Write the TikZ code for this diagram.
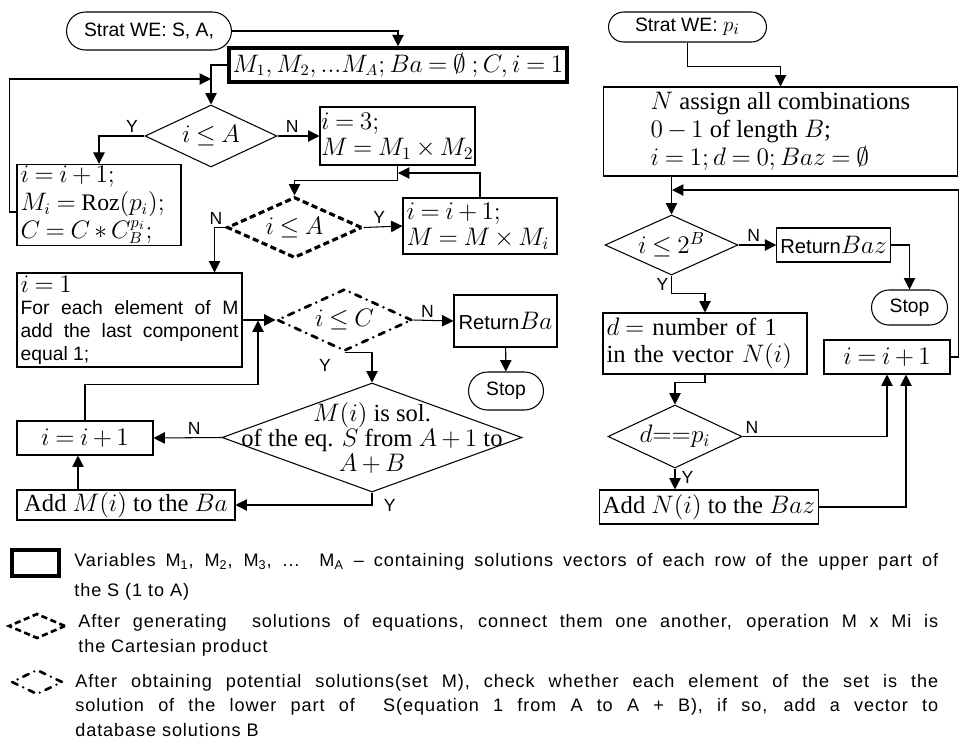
\documentclass[tikz,border=0pt]{standalone}
\usepackage{fontspec}
\setmainfont{Liberation Serif}
\setsansfont{Liberation Sans}
\newfontfamily\legfont[LetterSpace=5]{Liberation Sans}
\usetikzlibrary{arrows.meta,shapes.geometric,shapes.misc,calc}
\thickmuskip=4mu plus 2mu
\medmuskip=3mu plus 1mu

\begin{document}
\begin{tikzpicture}[x=0.02cm, y=-0.02cm,
    blk/.style={draw, line width=0.6pt, inner xsep=2pt, inner ysep=1pt, font=\fontsize{14}{15}\selectfont},
    term/.style={draw, rounded rectangle, line width=0.6pt, inner sep=2pt, font=\sffamily\fontsize{11}{12}\selectfont},
    cond/.style={draw, diamond, aspect=2.2, line width=0.6pt, inner sep=0pt, font=\fontsize{14}{14}\selectfont},
    arr/.style={-{Triangle[length=6.5pt,width=6.5pt]}, line width=0.6pt},
    lbl/.style={font=\sffamily\fontsize{10}{10}\selectfont, inner sep=1.5pt},
    dashbox/.style={line width=1.8pt, dash pattern=on 3.5pt off 2pt},
    dotbox/.style={line width=1.6pt, line cap=round, dash pattern=on 3.5pt off 3.5pt on 0pt off 3.5pt},
    legtxt/.style={anchor=north west, inner sep=0pt, align=justify}]

    % keep the frame of the original picture
    \useasboundingbox (0,0) rectangle (961,748);

    % Left chart: start, initialisation and first loop
    \node[term, minimum width=3.44cm, minimum height=0.76cm] (startA) at (149,31) {Strat WE: S, A,};
    \node[blk, line width=2pt, minimum width=6.4cm, minimum height=0.68cm, font=\fontsize{13.5}{14}\selectfont] (init) at (398,65) {$M_1, M_2, ...M_A; Ba = \emptyset\ ;C, i = 1$};
    \node[cond, minimum width=2.64cm, minimum height=1.24cm] (decA) at (211,136) {$i \le A$};
    \node[blk, minimum width=3.28cm, text width=3.14cm, minimum height=1.6cm, align=left, font=\fontsize{13.5}{16}\selectfont] (updA) at (99,205) {$i = i + 1;$\\ $M_i = \mathrm{Roz}(p_i);$\\ ${C = C * C_B^{p_i};}$};
    \node[blk, minimum width=3.1cm, text width=3.06cm, inner xsep=0.5pt, minimum height=1.16cm, align=left] (prodA) at (397.5,136) {$i = 3;$\\ ${M = M_1 \times M_2}$};

    % Cartesian product loop (dashed)
    \node[cond, dashbox, minimum width=2.7cm, minimum height=1.22cm] (decB) at (294.5,227.5) {$i \le A$};
    \node[blk, minimum width=3.08cm, text width=2.94cm, minimum height=1.12cm, align=left] (updB) at (480,226) {$i = i + 1;$\\ ${M = M \times M_i}$};
    \node[blk, minimum width=4.5cm, text width=4.36cm, minimum height=1.88cm, align=justify, font=\sffamily\fontsize{11}{13}\selectfont] (ext) at (129.5,320) {{\rmfamily\fontsize{14}{14}\selectfont $i = 1$}\\ For each element of M\linebreak add the last component\linebreak equal 1;};

    % checking loop (dash dot)
    \node[cond, dotbox, minimum width=2.7cm, minimum height=1.24cm] (decC) at (344.5,320) {$i \le C$};
    \node[blk, font=\sffamily\fontsize{11.5}{12}\selectfont, minimum width=2.06cm, minimum height=1.04cm] (retA) at (505.5,321) {Return{\fontsize{14}{14}\selectfont$Ba$}};
    \node[term, minimum width=1.64cm, minimum height=0.76cm] (stopA) at (506,391) {Stop};
    \node[cond, minimum width=6cm, minimum height=2.18cm] (chk) at (372,437.5) {};
    \node[align=center, font=\fontsize{14}{14}\selectfont, inner sep=0pt] (chkt) at (372,438) {$M(i)$ is sol.\\ of the eq. $S$ from $A + 1$ to\\ $A + B$};
    \node[blk, minimum width=2.72cm, minimum height=0.68cm] (incA) at (85,438) {$i = i + 1$};
    \node[blk, minimum width=4.36cm, minimum height=0.6cm] (addA) at (126,505) {Add $M(i)$ to the $Ba$};

    % Right chart
    \node[term, minimum width=3.3cm, minimum height=0.6cm] (startB) at (687.5,27) {Strat WE: {\fontsize{13}{13}\selectfont$p_i$}};
    \node[blk, minimum width=7.1cm, minimum height=1.78cm, align=left, font=\fontsize{14}{16}\selectfont] (comb) at (780.5,131.5) {$N$ assign all combinations\\ $0 - 1$ of length $B$;\\ $i = 1; d = 0; Baz = \emptyset$};
    \node[cond, minimum width=2.66cm, minimum height=1.2cm] (decD) at (671.5,245) {$i \le 2^B$};
    \node[blk, font=\sffamily\fontsize{11.5}{12}\selectfont, minimum width=2.06cm, minimum height=0.68cm] (retB) at (833.5,245) {Return{\fontsize{14}{14}\selectfont$Baz$}};
    \node[term, minimum width=1.66cm, minimum height=0.7cm] (stopB) at (909.5,307.5) {Stop};
    \node[blk, minimum width=4.08cm, text width=3.94cm, minimum height=1.22cm, align=left] (cnt) at (705,343.5) {$d = $ number of 1\\ in the vector $N(i)$};
    \node[cond, minimum width=2.68cm, minimum height=1.26cm] (decE) at (675,436.5) {$d{=}{=}p_i$};
    \node[blk, minimum width=4.04cm, minimum height=0.68cm] (addB) at (709,507) {Add $N(i)$ to the $Baz$};
    \node[blk, minimum width=2.52cm, minimum height=0.68cm] (incB) at (887,357) {$i = i + 1$};

    % join points on lines
    \coordinate (jA) at (211,79);
    \coordinate (jB) at (398,173);
    \coordinate (jC) at (258,320.5);
    \coordinate (jD) at (672,190);

    % Connectors of the left chart
    \draw[arr] (startA) -| (init);
    \draw[arr] (init) -| (decA);
    \draw[arr] ($(updA.west)+(0,7)$) -- ++(-7,0) |- (jA);
    \draw[arr] (decA.west) node[lbl, above left, xshift=-2pt] {Y} -| (updA.north);
    \draw[arr] (decA.east) -- node[lbl, above, pos=0.35] {N} (prodA.west);
    \draw[arr] (prodA.south) -- ++(0,15) -| (decB.north);
    \draw[arr] (updB.north) |- (jB);
    \draw[arr] (decB.east) -- node[lbl, above, pos=0.4] {Y} (updB.west);
    \draw[arr] (decB.west) node[lbl, above left] {N} -| ($(ext.north)+(85,0)$);
    \draw[arr] (ext.east) -- (decC.west);
    \draw[arr] (incA.north) -- ++(0,-36) -| (jC);
    \draw[arr] (decC.east) -- node[lbl, above, pos=0.35] {N} (retA.west);
    \draw[arr] (retA) -- (stopA);
    \draw[arr] (decC.south) node[lbl, below left, xshift=-6pt, yshift=-2pt] {Y} -| (chk.north);
    \draw[arr] (chk.west) -- node[lbl, above, pos=0.4] {N} (incA.east);
    \draw[arr] (chk.south) node[lbl, below right, xshift=5pt, yshift=-2pt] {Y} |- (addA.east);
    \draw[arr] ($(incA.south |- addA.north)+(-7,0)$) -- ($(incA.south)+(-7,0)$);

    % Connectors of the right chart
    \draw[arr] (startB.south) -- ++(0,24) -| (comb.north);
    \draw[arr] (decD.north |- comb.south) -- (decD.north);
    \draw[arr] (incB.east) -- ++(8,0) |- (jD);
    \draw[arr] (decD.east) -- node[lbl, above, pos=0.4] {N} (retB.west);
    \draw[arr] (retB.east) -| (stopB.north);
    \draw[arr] (decD.south) node[lbl, below left] {Y} -- ++(0,18) -| (cnt.north);
    \draw[arr] (cnt.south) -- ++(0,8) -| (decE.north);
    \draw[arr] (decE.east) node[lbl, above right] {N} -| (incB.south);
    \draw[arr] (decE.south) node[lbl, below right, xshift=2pt] {Y} -- (decE.south |- addB.north);
    \draw[arr] (addB.east) -| ($(incB.south)+(19,0)$);

    % Legend
    \node[draw, line width=2pt, minimum width=0.94cm, minimum height=0.52cm] (legA) at (35.5,563) {};
    \node[legtxt, text width=17.28cm, font=\legfont\fontsize{10.3}{17}\selectfont] (legAt) at (74,553) {Variables M\textsubscript{1}, M\textsubscript{2}, M\textsubscript{3}, ... M\textsubscript{A} – containing solutions vectors of each row of the upper part of\linebreak the S (1 to A)};
    \node[draw, diamond, dashbox, line width=1.5pt, minimum width=1.14cm, minimum height=0.5cm, inner sep=0pt] (legB) at (37,626) {};
    \node[legtxt, text width=17.2cm, font=\legfont\fontsize{10.3}{14.2}\selectfont] (legBt) at (78,614) {After generating\ \ solutions of equations, connect them one another, operation M x Mi is\linebreak the Cartesian product};
    \node[draw, diamond, dotbox, line width=1.5pt, minimum width=1.02cm, minimum height=0.5cm, inner sep=0pt] (legC) at (37,682) {};
    \node[legtxt, text width=17.26cm, font=\legfont\fontsize{10.3}{13.9}\selectfont] (legCt) at (75,674) {After obtaining potential solutions(set M), check whether each element of the set is the\linebreak solution of the lower part of\ \ S(equation 1 from A to A + B), if so, add a vector to\linebreak database solutions B};

\end{tikzpicture}
\end{document}
